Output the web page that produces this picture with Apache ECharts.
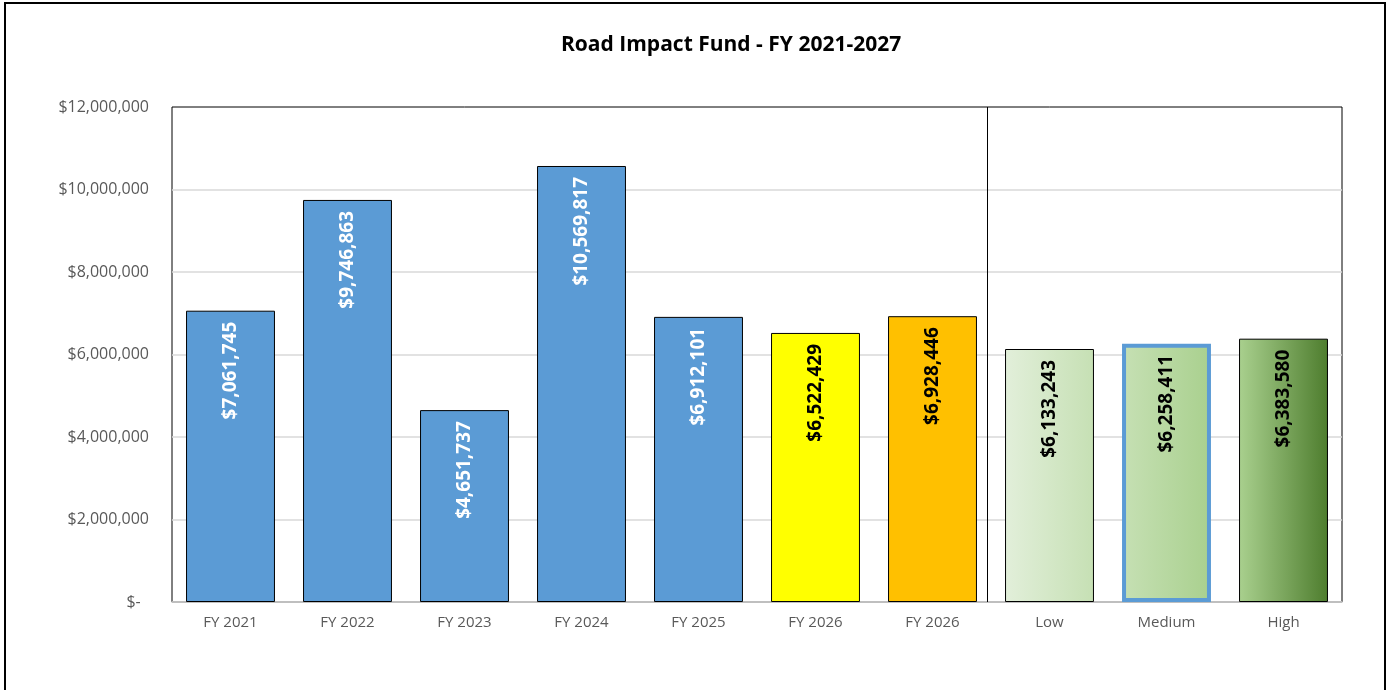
<!DOCTYPE html>
<html>
<head>
<meta charset="utf-8">
<script src="https://cdn.jsdelivr.net/npm/echarts@6/dist/echarts.min.js"></script>
<style>
html, body { margin: 0; padding: 0; background: #fff; }
#chart { width: 1388px; height: 690px; }
</style>
</head>
<body>
<div id="chart"></div>
<script>
const categories = ['FY 2021', 'FY 2022', 'FY 2023', 'FY 2024', 'FY 2025', 'FY 2026', 'FY 2026', 'Low', 'Medium', 'High'];
const values = [7061745, 9746863, 4651737, 10569817, 6912101, 6522429, 6928446, 6133243, 6258411, 6383580];
const yTicks = [0, 2000000, 4000000, 6000000, 8000000, 10000000, 12000000];
// divider between actuals and the scenario bars (between categories 6 and 7)
const dividerAt = 6.47;

const font = '"Open Sans", "Noto Sans", sans-serif';

const grad = (a, b) => new echarts.graphic.LinearGradient(0, 0, 1, 0, [
  { offset: 0, color: a },
  { offset: 1, color: b }
]);

const fills = [
  '#5B9BD5', '#5B9BD5', '#5B9BD5', '#5B9BD5', '#5B9BD5',
  '#FFFF00', '#FFC000',
  grad('#E2EFDA', '#C6E0B4'),
  grad('#C6E0B4', '#A9D08E'),
  grad('#A9D08E', '#4E7D2E')
];
const labelColors = ['#fff', '#fff', '#fff', '#fff', '#fff', '#000', '#000', '#000', '#000', '#000'];

const money = v => '$' + v.toLocaleString('en-US');

const chart = echarts.init(document.getElementById('chart'));

chart.setOption({
  animation: false,
  title: {
    text: 'Road Impact Fund - FY 2021-2027',
    left: 556,
    top: 30,
    textStyle: { fontFamily: font, fontSize: 21, fontWeight: 'bold', color: '#000' }
  },
  graphic: [{
    type: 'rect',
    shape: { x: 5, y: 3, width: 1380, height: 720 },
    style: { fill: 'none', stroke: '#000', lineWidth: 2 },
    silent: true
  }],
  grid: {
    left: 172,
    right: 46,
    top: 107,
    bottom: 88,
    show: true,
    borderColor: '#000',
    borderWidth: 1
  },
  xAxis: [{
    type: 'category',
    data: categories,
    axisLine: { lineStyle: { color: '#BFBFBF', width: 1.5 } },
    axisTick: { show: false },
    axisLabel: { color: '#595959', fontFamily: font, fontSize: 15, margin: 13, interval: 0 }
  }, {
    type: 'value',
    min: -0.5,
    max: categories.length - 0.5,
    show: false
  }],
  yAxis: {
    type: 'value',
    min: yTicks[0],
    max: yTicks[yTicks.length - 1],
    interval: yTicks[1] - yTicks[0],
    axisLine: { show: false },
    axisTick: { show: false },
    axisLabel: {
      color: '#595959',
      fontFamily: font,
      fontSize: 16,
      margin: 23,
      formatter: v => v === 0 ? '$-  ' : money(v)
    },
    splitLine: { showMaxLine: false, lineStyle: { color: '#D9D9D9', width: 1.5 } }
  },
  series: [{
    type: 'bar',
    barCategoryGap: '24%',
    data: values.map((v, i) => ({
      value: v,
      itemStyle: {
        color: fills[i],
        borderColor: i === 8 ? '#5B9BD5' : '#000',
        borderWidth: i === 8 ? 4 : 1
      },
      label: { color: labelColors[i] }
    })),
    label: {
      show: true,
      position: 'insideTop',
      rotate: 90,
      align: 'right',
      verticalAlign: 'middle',
      distance: 11,
      fontFamily: font,
      fontSize: 19,
      fontWeight: 'bold',
      formatter: p => money(p.value)
    }
  }, {
    type: 'line',
    xAxisIndex: 1,
    data: [],
    silent: true,
    markLine: {
      symbol: 'none',
      silent: true,
      label: { show: false },
      lineStyle: { color: '#000', width: 1, type: 'solid' },
      data: [{ xAxis: dividerAt }]
    }
  }]
});
</script>
</body>
</html>
